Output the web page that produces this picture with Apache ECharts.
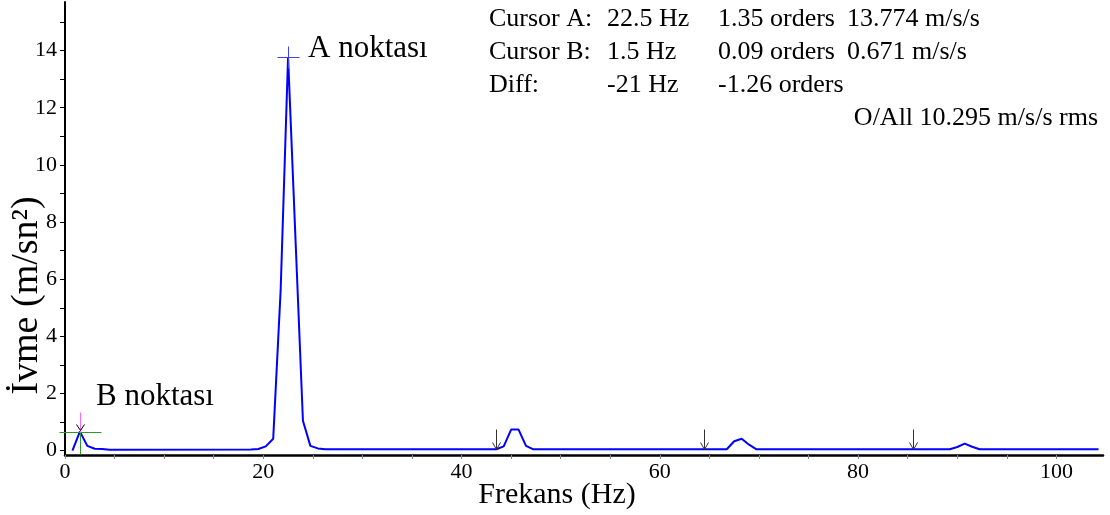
<!DOCTYPE html>
<html><head><meta charset="utf-8">
<script src="https://cdn.jsdelivr.net/npm/echarts@6/dist/echarts.min.js"></script>
<style>html,body{margin:0;padding:0;background:#fff}#c{width:1110px;height:515px}</style>
</head><body><div id="c"></div>
<script>
// ---- data ----
const freqHz = [0.75, 1.5, 2.25, 3.0, 3.75, 4.5, 18.75, 19.5, 20.25, 21.0, 21.75, 22.5, 23.25, 24.0, 24.75, 25.5, 26.25,
  43.5, 44.25, 45.0, 45.75, 46.5, 47.25, 66.75, 67.5, 68.25, 69.0, 69.75, 89.25, 90.0, 90.75, 91.5, 92.25, 104.25];
const accel = [0.0, 0.671, 0.17, 0.07, 0.06, 0.03, 0.04, 0.06, 0.15, 0.42, 5.6, 13.774, 7.4, 1.05, 0.17, 0.08, 0.05,
  0.05, 0.15, 0.74, 0.74, 0.17, 0.05, 0.05, 0.33, 0.42, 0.21, 0.05, 0.05, 0.13, 0.25, 0.14, 0.05, 0.05];
const xTickValues = [0,5,10,15,20,25,30,35,40,45,50,55,60,65,70,75,80,85,90,95,100];
const xLabelValues = [0,20,40,60,80,100];
const yTickValues = [0,1,2,3,4,5,6,7,8,9,10,11,12,13,14,15];
const yLabelValues = [0,2,4,6,8,10,12,14];
const cursorA = [22.5, 13.774];
const cursorB = [1.5, 0.671];
const harmonicHz = [43.5, 64.5, 85.5];
const harmonicLevel = 0.04;
const cursorRows = [
  ["Cursor A:", "22.5 Hz", "1.35 orders", "13.774 m/s/s"],
  ["Cursor B:", "1.5 Hz", "0.09 orders", "0.671 m/s/s"],
  ["Diff:", "-21 Hz", "-1.26 orders", ""]
];
const overallText = "O/All 10.295 m/s/s rms";
const labelA = "A noktası";
const labelB = "B noktası";
const xName = "Frekans (Hz)";
const yName = "İvme (m/sn²)";

// ---- chart ----
const FONT = "'Liberation Serif', 'Times New Roman', serif";
const chart = echarts.init(document.getElementById('c'), null, {renderer: 'canvas'});

const markData = [[cursorA[0], cursorA[1], 0], [cursorB[0], cursorB[1], 1]]
  .concat(harmonicHz.map(f => [f, harmonicLevel, 2]));

const colX = [489, 607, 718, 847];
const rowY = [6, 39, 72];
const graphics = [];
cursorRows.forEach((row, r) => {
  row.forEach((t, c) => {
    if (!t) return;
    graphics.push({type: 'text', left: colX[c], top: rowY[r], silent: true,
      style: {text: t, font: '26px ' + FONT, fill: '#000'}});
  });
});
graphics.push({type: 'text', right: 12, top: 105, silent: true,
  style: {text: overallText, font: '26px ' + FONT, fill: '#000'}});
graphics.push({type: 'text', left: 308, top: 33, silent: true,
  style: {text: labelA, font: '31px ' + FONT, fill: '#000'}});
graphics.push({type: 'text', left: 96, top: 381, silent: true,
  style: {text: labelB, font: '31px ' + FONT, fill: '#000'}});

chart.setOption({
  animation: false,
  backgroundColor: '#fff',
  grid: {left: 65, right: 7, top: 2, bottom: 60, containLabel: false, outerBoundsMode: 'none'},
  xAxis: {
    type: 'value', min: 0, max: 104.7,
    name: xName, nameLocation: 'middle', nameGap: 25, nameMoveOverlap: false,
    nameTextStyle: {fontFamily: FONT, fontSize: 30, color: '#000', padding: [0, 54, 0, 0]},
    axisLine: {show: true, onZero: false, lineStyle: {color: '#000', width: 2.5}},
    axisTick: {show: true, customValues: xTickValues, length: 4, lineStyle: {color: '#888', width: 1}},
    axisLabel: {customValues: xLabelValues, margin: 6, fontFamily: FONT, fontSize: 22, color: '#000'},
    splitLine: {show: false}
  },
  yAxis: {
    type: 'value', min: -0.15, max: 15.7,
    name: yName, nameLocation: 'middle', nameGap: 19, nameRotate: 90, nameMoveOverlap: false,
    nameTextStyle: {fontFamily: FONT, fontSize: 38, color: '#000', padding: [0, 134, 0, 0]},
    axisLine: {show: true, onZero: false, lineStyle: {color: '#000', width: 2}},
    axisTick: {show: true, customValues: yTickValues, length: 5, lineStyle: {color: '#000', width: 1}},
    axisLabel: {customValues: yLabelValues, margin: 8, fontFamily: FONT, fontSize: 22, color: '#000'},
    splitLine: {show: false}
  },
  graphic: graphics,
  series: [
    {
      type: 'line', data: freqHz.map((f, i) => [f, accel[i]]),
      showSymbol: false, symbol: 'none', smooth: false,
      lineStyle: {color: '#0000ff', width: 2}, z: 3
    },
    {
      type: 'custom', data: markData, clip: false, z: 4,
      renderItem: function (params, api) {
        const kind = api.value(2);
        const p = api.coord([api.value(0), api.value(1)]);
        const x = Math.round(p[0]) + 0.5, y = Math.round(p[1]) + 0.5;
        const ln = (x1, y1, x2, y2, c, w) => ({type: 'line', shape: {x1, y1, x2, y2}, style: {stroke: c, lineWidth: w || 1}});
        const pl = (pts, c) => ({type: 'polyline', shape: {points: pts}, style: {stroke: c, fill: null, lineWidth: 1}});
        if (kind === 0) {
          return {type: 'group', children: [
            ln(x - 11, y, x + 11, y, '#4040ff'), ln(x, y - 11, x, y + 11, '#4040ff')]};
        } else if (kind === 1) {
          return {type: 'group', children: [
            ln(x - 21, y, x + 21, y, '#2a9a2a'), ln(x, y, x, y + 22, '#2a9a2a'),
            ln(x, y - 20, x, y, '#ff66ff'),
            pl([[x - 4, y - 8], [x, y - 2], [x + 4, y - 8]], '#000')]};
        }
        return {type: 'group', children: [
          ln(x, y - 21, x, y - 1, '#333'),
          pl([[x - 4, y - 8], [x, y - 1], [x + 4, y - 8]], '#333')]};
      }
    }
  ]
});
</script>
</body></html>
